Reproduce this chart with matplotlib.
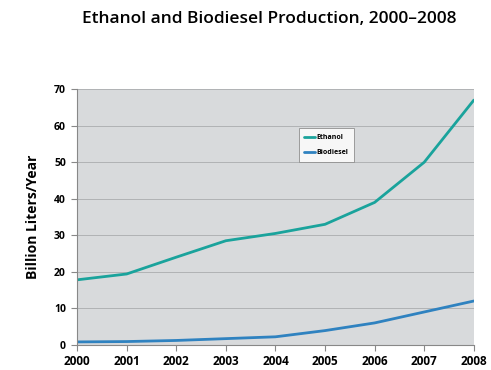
import matplotlib
matplotlib.use("Agg")
import matplotlib.pyplot as plt

years = [2000, 2001, 2002, 2003, 2004, 2005, 2006, 2007, 2008]
ethanol = [17.8, 19.4, 24.0, 28.5, 30.5, 33.0, 39.0, 50.0, 67.0]
biodiesel = [0.8, 0.9, 1.2, 1.7, 2.2, 3.9, 6.0, 9.0, 12.0]
yticks = [0, 10, 20, 30, 40, 50, 60, 70]

plt.rcParams['font.family'] = ['Open Sans', 'DejaVu Sans']

fig = plt.figure(figsize=(4.91, 3.70), dpi=100)
ax = fig.add_axes([0.157, 0.068, 0.808, 0.691])
ax.set_facecolor('#d8dadc')
ax.plot(years, ethanol, color='#1aa39c', lw=2.0, label='Ethanol', solid_capstyle='round')
ax.plot(years, biodiesel, color='#2f82c0', lw=2.0, label='Biodiesel', solid_capstyle='round')
ax.set_xlim(2000, 2008)
ax.set_ylim(0, 70)
ax.set_yticks(yticks)
ax.set_xticks(years)
ax.grid(axis='y', color='#b0b2b4', lw=0.7)
ax.set_axisbelow(True)
for s in ['top', 'right']:
    ax.spines[s].set_visible(False)
ax.spines['left'].set_color('#888888')
ax.spines['bottom'].set_color('#888888')
ax.tick_params(axis='y', labelsize=7.5, length=4, color='#888888', pad=4)
ax.tick_params(axis='x', labelsize=8.5, length=4, color='#888888', pad=3)
for t in ax.get_xticklabels() + ax.get_yticklabels():
    t.set_fontweight('bold')
ax.set_ylabel('Billion Liters/Year', fontsize=10, fontweight='bold', labelpad=10)
fig.text(0.548, 0.948, 'Ethanol and Biodiesel Production, 2000\u20132008', ha='center', va='center',
         fontsize=12.5, fontweight='semibold')
leg = ax.legend(loc='upper left', bbox_to_anchor=(0.55, 0.86), fontsize=5, frameon=True,
                fancybox=False, edgecolor='#888888', handlelength=1.5, borderpad=0.8,
                labelspacing=1.2, handletextpad=0.3)
leg.get_frame().set_linewidth(0.7)
for t in leg.get_texts():
    t.set_fontweight('bold')
fig.savefig('out.png', dpi=100, facecolor='white')
